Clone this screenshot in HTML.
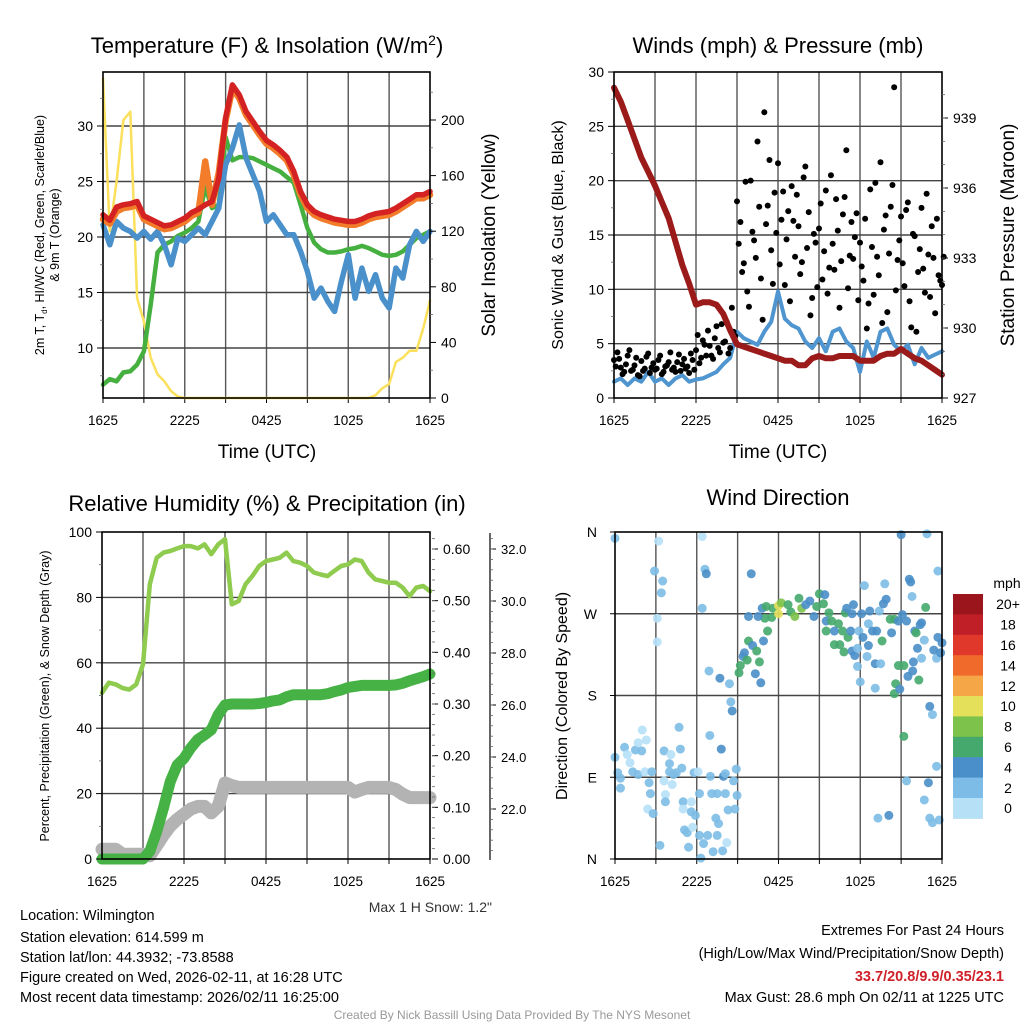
<!DOCTYPE html>
<html><head><meta charset="utf-8">
<style>
html,body{margin:0;padding:0;background:#fff;}
svg{display:block;font-family:"Liberation Sans",Arial,sans-serif;}
</style></head>
<body>
<svg id="fig" width="1024" height="1024" viewBox="0 0 1024 1024" xmlns="http://www.w3.org/2000/svg">
<rect width="1024" height="1024" fill="#fff"/>
<g id="g1"></g>
<g id="g2"></g>
<g id="g3"></g>
<g id="g4"></g>

<text x="267" y="53" font-size="22" text-anchor="middle">Temperature (F) &amp; Insolation (W/m<tspan dy="-8" font-size="14">2</tspan><tspan dy="8">)</tspan></text>
<text x="778" y="53" font-size="22" text-anchor="middle">Winds (mph) &amp; Pressure (mb)</text>
<text x="267" y="511" font-size="22" text-anchor="middle">Relative Humidity (%) &amp; Precipitation (in)</text>
<text x="778" y="505" font-size="22" text-anchor="middle">Wind Direction</text>

<text x="267" y="458" font-size="19" text-anchor="middle">Time (UTC)</text>
<text x="778" y="458" font-size="19" text-anchor="middle">Time (UTC)</text>

<text transform="translate(44,235) rotate(-90)" font-size="12.5" text-anchor="middle">2m T, T<tspan font-size="8" dy="3">d</tspan><tspan dy="-3">, HI/WC (Red, Green, Scarlet/Blue)</tspan></text>
<text transform="translate(59,235) rotate(-90)" font-size="12.5" text-anchor="middle">&amp; 9m T (Orange)</text>
<text transform="translate(495,235) rotate(-90)" font-size="19" text-anchor="middle">Solar Insolation (Yellow)</text>
<text transform="translate(563,235) rotate(-90)" font-size="16" text-anchor="middle">Sonic Wind &amp; Gust (Blue, Black)</text>
<text transform="translate(1014,235) rotate(-90)" font-size="19" text-anchor="middle">Station Pressure (Maroon)</text>
<text transform="translate(49,696) rotate(-90)" font-size="12.5" text-anchor="middle">Percent, Precipitation (Green), &amp; Snow Depth (Gray)</text>
<text transform="translate(567,696) rotate(-90)" font-size="16" text-anchor="middle">Direction (Colored By Speed)</text>

<text x="492" y="912" font-size="14" fill="#333" text-anchor="end">Max 1 H Snow: 1.2"</text>

<g font-size="14.5" fill="#000">
<text x="20" y="920">Location: Wilmington</text>
<text x="20" y="942">Station elevation: 614.599 m</text>
<text x="20" y="962">Station lat/lon: 44.3932; -73.8588</text>
<text x="20" y="982">Figure created on Wed, 2026-02-11, at 16:28 UTC</text>
<text x="20" y="1002">Most recent data timestamp: 2026/02/11 16:25:00</text>
</g>
<g font-size="14.5" text-anchor="end">
<text x="1004" y="935">Extremes For Past 24 Hours</text>
<text x="1004" y="958">(High/Low/Max Wind/Precipitation/Snow Depth)</text>
<text x="1004" y="981" fill="#d0202a" font-weight="bold">33.7/20.8/9.9/0.35/23.1</text>
<text x="1004" y="1002">Max Gust: 28.6 mph On 02/11 at 1225 UTC</text>
</g>
<text x="512" y="1019" font-size="12" fill="#999" text-anchor="middle">Created By Nick Bassill Using Data Provided By The NYS Mesonet</text>
</svg>
<script>
// ---------- DATA ----------
const timeTickLabels = ["1625","2225","0425","1025","1625"];
const tempRed = [22.0,21.5,22.7,22.9,23.0,23.2,21.9,21.6,21.3,21.0,21.1,21.4,21.7,22.2,22.5,22.9,23.2,25.3,30.7,33.7,32.8,31.3,30.4,29.5,28.7,28.3,27.8,27.2,25.9,24.1,22.9,22.3,22.0,21.8,21.6,21.5,21.4,21.4,21.6,21.9,22.1,22.2,22.3,22.6,23.0,23.4,23.8,23.8,24.1];
const temp9m = [21.6,21.2,22.3,22.6,22.7,22.9,21.6,21.3,21.0,20.7,20.8,21.1,21.4,21.9,22.2,26.8,22.9,25.8,30.5,33.4,32.5,31.0,30.1,29.2,28.4,28.0,27.5,26.9,25.6,23.8,22.6,22.0,21.7,21.5,21.3,21.2,21.1,21.1,21.3,21.6,21.8,21.9,22.0,22.3,22.7,23.1,23.5,23.5,23.8];
const dewGreen = [6.7,7.2,7.0,7.8,7.9,8.5,9.7,13.9,18.6,19.3,19.6,20.1,20.4,20.8,21.4,24.5,22.6,22.9,29.0,26.9,27.2,27.2,27.1,26.8,26.5,26.2,25.9,25.4,24.9,22.9,20.8,19.5,18.9,18.6,18.6,18.7,18.9,19.0,19.2,19.0,18.7,18.4,18.3,18.4,18.7,19.3,19.9,20.2,20.5];
const chillBlue = [21.1,19.3,21.4,20.8,20.5,19.9,20.5,19.8,20.5,19.3,17.5,19.9,19.6,20.2,20.8,20.2,21.4,22.6,26.5,28.0,30.1,27.1,25.6,24.1,21.4,22.0,21.1,20.2,20.2,18.7,16.9,14.5,15.4,14.2,13.3,16.0,18.4,14.5,17.2,15.1,16.6,14.5,13.6,17.2,16.3,19.3,20.5,19.6,20.5];
const solar = [230,120,156,200,206,72,55,29,17,12,5,1,0,0,0,0,0,0,0,0,0,0,0,0,0,0,0,0,0,0,0,0,0,0,0,0,0,0,0,0,2,7,10,26,29,34,34,50,70];
const tempTicks = [10,15,20,25,30];
const solarTicks = [0,40,80,120,160,200];

const pressure = [940.3,939.7,938.9,938.1,937.3,936.7,936.1,935.4,934.7,933.7,932.7,931.9,931.0,931.1,931.1,931.0,930.6,929.9,929.3,929.2,929.1,929.0,928.9,928.8,928.7,928.6,928.6,928.4,928.4,928.7,928.8,928.7,928.7,928.8,928.8,928.8,928.6,928.6,928.6,928.8,928.9,928.9,929.1,928.9,928.7,928.6,928.4,928.2,928.0];
const sonicWind = [1.5,1.8,1.2,1.8,1.5,2.4,1.5,1.8,1.2,1.8,2.1,1.5,1.7,1.8,2.1,2.4,3.1,3.7,6.1,5.5,5.2,4.9,6.1,7.0,9.8,7.3,6.7,6.4,5.2,4.6,5.5,4.3,6.1,6.4,5.2,4.6,2.4,5.2,3.7,6.1,6.4,4.9,4.3,4.9,3.1,4.6,3.7,4.0,4.3];
const gusts = [3.5,4.2,2.8,2.4,3.9,2.5,3.0,2.1,3.4,2.7,4.1,2.8,2.6,3.5,2.2,2.9,3.3,2.6,2.4,4.0,3.1,2.7,2.3,3.5,
 4.4,3.2,5.3,3.9,4.8,3.6,6.6,4.2,5.1,7.0,4.6,6.1,
 18.1,16.2,12.4,9.8,20.0,14.5,23.6,11.0,26.3,17.7,13.6,18.9,
 21.6,16.4,10.4,17.2,19.5,13.0,15.8,12.5,21.3,17.1,9.2,14.3,
 15.6,10.9,19.1,12.0,14.2,18.3,8.3,16.9,22.8,13.1,12.8,17.0,
 14.3,10.8,6.4,19.2,9.5,13.0,21.7,15.5,7.9,17.6,28.6,12.7,
 16.7,10.3,18.0,6.5,14.9,11.6,17.5,9.7,13.2,15.8,7.8,11.3,10.4];
const gusts2 = [2.9,3.6,2.2,3.1,4.4,2.6,3.7,2.0,2.5,3.8,2.3,3.2,2.7,3.9,2.4,3.0,4.2,2.8,3.3,2.5,3.6,2.9,4.1,2.6,
 5.8,3.7,4.9,6.2,3.9,5.5,4.6,6.8,5.2,4.1,8.3,5.7,
 14.2,11.6,19.9,8.4,15.3,12.9,17.6,7.2,16.0,21.9,10.5,15.2,
 12.3,19.0,14.6,8.9,16.3,18.7,11.4,20.3,13.8,7.6,15.1,10.2,
 17.9,13.5,9.6,20.5,11.8,15.4,12.6,18.5,10.1,16.2,14.8,9.0,
 12.1,16.5,8.7,13.9,19.8,11.3,6.9,16.8,13.3,19.6,9.9,14.5,
 12.4,17.3,8.9,15.1,6.1,13.7,11.9,18.8,9.3,12.9,16.5,10.8,13.0];
const windTicks = [0,5,10,15,20,25,30];
const pressureTicks = [927,930,933,936,939];

const rh = [50.8,53.9,53.4,52.3,51.8,53.4,59.5,84.0,92.1,93.7,94.2,95.0,95.7,95.7,95.0,96.2,93.2,96.2,97.8,77.9,78.9,84.0,86.5,89.6,91.1,91.6,92.1,93.7,91.1,90.6,89.6,87.6,87.0,86.5,88.1,89.6,90.1,91.6,91.1,87.6,85.5,85.0,84.5,84.5,83.0,80.4,83.0,83.5,81.9];
const precip = [0,0,0,0,0,0,0,0.015,0.053,0.099,0.150,0.182,0.195,0.215,0.231,0.240,0.250,0.279,0.298,0.300,0.300,0.300,0.300,0.301,0.303,0.306,0.308,0.314,0.318,0.318,0.318,0.318,0.318,0.320,0.324,0.327,0.332,0.334,0.336,0.336,0.336,0.336,0.336,0.337,0.340,0.345,0.349,0.353,0.358];
const snowDepth = [20.45,20.45,20.45,20.26,20.26,20.26,20.26,20.2,20.6,21.0,21.35,21.6,21.8,22.0,22.1,22.1,21.85,22.1,23.0,22.9,22.83,22.83,22.83,22.83,22.83,22.83,22.83,22.83,22.83,22.83,22.83,22.83,22.83,22.83,22.83,22.83,22.83,22.65,22.75,22.83,22.83,22.83,22.83,22.75,22.57,22.44,22.44,22.44,22.44];
const rhTicks = [0,20,40,60,80,100];
const precipTicks = ["0.00","0.10","0.20","0.30","0.40","0.50","0.60"];
const snowTicks = ["22.0","24.0","26.0","28.0","30.0","32.0"];

const dirHours = [0,3.2,6.4,2.9,3.5,3.4,6.6,6.7,6.4,3.1,3.1,10.0,6.9,7.7,8.4,8.5,8.6,6.96,7.8,4.7,
 0,0.2,0.4,0.4,0.7,0.9,1.1,1.5,1.7,1.96,2.0,2.3,1.3,1.7,2.2,2.7,2.5,2.6,2.4,2.8,3.3,3.6,4.0,4.1,4.0,4.3,4.5,4.8,4.9,3.7,3.7,4.2,3.6,5.0,5.0,5.6,5.6,5.9,5.1,5.3,5.7,5.4,5.8,6.1,6.2,6.2,6.5,6.8,6.3,7.0,7.1,7.5,7.4,7.6,7.5,7.2,7.9,8.2,7.96,8.1,8.1,8.3,8.7,8.8,8.9,8.96,
 9.1,9.2,9.4,9.5,9.7,9.8,10.1,10.3,10.4,10.6,10.7,10.9,11.2,11.0,10.8,11.1,11.5,11.6,12.0,12.0,12.2,12.7,12.9,13.2,13.5,13.7,14.0,14.3,14.6,14.8,15.0,15.3,15.4,9.8,10.5,
 15.7,15.5,15.9,16.4,15.5,16.1,16.7,17.1,16.1,16.5,16.8,16.9,17.0,17.5,17.4,17.3,17.4,17.6,17.8,17.9,17.8,18.0,18.1,18.2,18.3,18.5,18.6,18.6,18.7,18.9,19.1,19.1,19.2,19.4,19.5,19.6,19.7,19.9,19.8,20.2,20.3,20.5,20.6,20.5,20.8,20.8,20.9,21.0,21.1,21.2,21.2,21.4,21.5,21.6,21.7,21.8,21.85,21.9,22.0,22.1,22.2,22.3,22.4,22.5,22.5,22.7,22.8,22.9,23.1,23.3,23.4,23.6,23.7,24.0,23.9,23.7,23.6,23.0,22.7,23.1,23.3,23.8,21.4,19.3,20.1];
const dirDeg = [353,350,355,317,306,293,319,314,276,265,239,314,207,199,193,173,163,136,121,145,
 112,95,89,78,123,115,106,120,128,119,142,131,96,93,96,96,84,72,55,50,15,119,105,115,96,93,95,121,100,71,63,82,86,63,55,63,52,48,32,29,35,13,95,96,72,26,17,26,1,91,72,72,45,39,26,8,9,18,91,94,72,54,86,55,99,70,
 205,213,223,227,219,240,235,204,229,217,194,240,251,265,276,278,266,276,279,270,282,280,272,267,287,276,280,284,267,278,292,281,291,267,267,
 271,262,262,259,251,251,251,244,236,236,228,271,276,280,270,251,229,224,232,251,212,195,270,244,301,223,235,259,273,251,215,188,251,273,215,240,281,286,303,264,249,264,193,182,262,213,187,357,269,213,135,262,201,308,305,289,207,217,251,249,232,197,258,260,221,241,277,358,168,159,230,221,244,238,227,317,102,84,65,45,40,43,86,45,48];
const dirSpeed = [3,1,1,3,3,3,3,5,3,1,1,5,3,5,3,3,5,3,5,3,
 3,3,3,3,3,1,1,3,1,3,1,1,3,3,1,3,3,3,1,3,3,3,3,1,3,3,3,3,3,1,3,1,1,3,1,1,3,3,3,3,1,3,3,1,3,3,3,3,3,3,3,3,3,3,3,3,3,1,5,3,3,3,3,3,3,3,
 7,7,5,5,7,7,5,5,7,7,5,5,7,7,5,7,7,7,11,11,9,7,7,9,7,9,5,5,5,7,7,7,5,5,5,
 7,5,7,7,7,5,7,7,7,7,7,7,5,5,5,5,5,5,3,3,3,3,5,5,3,3,5,3,5,5,5,3,5,3,3,7,5,5,3,7,5,7,7,7,5,7,5,5,5,7,7,5,5,5,5,3,5,5,5,7,5,7,5,5,3,3,7,3,5,3,5,3,5,5,5,3,3,5,3,3,3,3,3,3,5];
const dirTickLabels = ["N","E","S","W","N"];
const speedBins = ["0","2","4","6","8","10","12","14","16","18","20+"];
const speedColors = ["#b5e0f6","#7dbce6","#4a8fc9","#45a86c","#7dc24b","#e5e05a","#f5a646","#f06a2c","#e0392b","#c01f27","#9a161c"];

// ---------- HELPERS ----------
const NS = "http://www.w3.org/2000/svg";
function mk(tag, attrs, parent){
  const e = document.createElementNS(NS, tag);
  for (const k in attrs) e.setAttribute(k, attrs[k]);
  parent.appendChild(e);
  return e;
}
function lin(d0,d1,r0,r1){ return v => r0 + (v-d0)/(d1-d0)*(r1-r0); }
function pts(xs, ys, xf, yf){ return xs.map((h,i)=>xf(h).toFixed(1)+","+yf(ys[i]).toFixed(1)).join(" "); }
const half = tempRed.map((_,i)=>i*0.5);
const quarter = gusts.map((_,i)=>i*0.25);

function frame(g, P, name){
  const xs = lin(0,24,P.x0,P.x1);
  for (let h=3; h<24; h+=3){
    const l = mk('line',{x1:xs(h),x2:xs(h),y1:P.y0,y2:P.y1,stroke:"#555","stroke-width":1.4},g);
    
    
  }
  for (let h=0; h<=24; h+=3){
    const t = mk('line',{x1:xs(h),x2:xs(h),y1:P.y1,y2:P.y1+5,stroke:"#000","stroke-width":1},g);
    
    
  }
  timeTickLabels.forEach((lab,i)=>{
    const t = mk('text',{x:xs(i*6),y:P.y1+27,"font-size":13.5,"text-anchor":"middle"},g);
    t.textContent = lab;
    
    
  });
  return xs;
}
function hgrid(g,P,vals,yf,name){
  vals.forEach(v=>{
    const y=yf(v);
    if (y<=P.y0+1||y>=P.y1-1) return;
    const l = mk('line',{x1:P.x0,x2:P.x1,y1:y,y2:y,stroke:"#444","stroke-width":1.4},g);
    
    
  });
}
function border(g,P,name){
  const r = mk('rect',{x:P.x0,y:P.y0,width:P.x1-P.x0,height:P.y1-P.y0,fill:"none",stroke:"#000","stroke-width":1.6},g);
  
  
}
function yTicks(g,x,labels,yf,side,name,minorVals,fs){
  labels.forEach(lab=>{
    const y = yf(parseFloat(lab));
    const dx = side==='left'?-6:6;
    const t = mk('line',{x1:x,x2:x+dx,y1:y,y2:y,stroke:"#000","stroke-width":1},g);
    
    
    const tx = mk('text',{x:side==='left'?x-10:x+11,y:y+5,"font-size":fs||14,"text-anchor":side==='left'?"end":"start"},g);
    tx.textContent = lab;
    
    
  });
  (minorVals||[]).forEach(v=>{
    const y=yf(v); const dx = side==='left'?-3:3;
    const t = mk('line',{x1:x,x2:x+dx,y1:y,y2:y,stroke:"#666","stroke-width":0.8},g);
    
    
  });
}
function range(a,b,s){const r=[];for(let v=a;v<=b+1e-9;v+=s)r.push(+v.toFixed(4));return r;}
function line(g,xs,ys,xf,yf,color,w,name){
  const p = mk('polyline',{points:pts(xs,ys,xf,yf),fill:"none",stroke:color,"stroke-width":w,"stroke-linejoin":"round","stroke-linecap":"round"},g);
  
  
  return p;
}

// ---------- PANEL 1 ----------
(function(){
  const g = document.getElementById('g1');
  const P = {x0:103,x1:430,y0:72,y1:398};
  const xs = frame(g,P,'temperature');
  const yT = lin(20,30,237,126);
  const yS = lin(0,200,398,120);
  hgrid(g,P,tempTicks,yT,'temperature');
  line(g,half,solar,xs,yS,"#fbe05c",2.5,'solar-insolation-line');
  line(g,half,dewGreen,xs,yT,"#45b040",4.5,'dewpoint-line');
  line(g,half,chillBlue,xs,yT,"#4a90cb",5.5,'wind-chill-line');
  line(g,half,temp9m,xs,yT,"#f27c2a",6.5,'temperature-9m-line');
  line(g,half,tempRed,xs,yT,"#d42222",5.5,'temperature-2m-line');
  border(g,P,'temperature');
  yTicks(g,P.x0,tempTicks.map(String),yT,'left','temperature-y',range(7.5,32.5,5),14);
  yTicks(g,P.x1,solarTicks.map(String),yS,'right','solar-y',range(20,220,40),14);
})();

// ---------- PANEL 2 ----------
(function(){
  const g = document.getElementById('g2');
  const P = {x0:614,x1:942,y0:72,y1:398};
  const xs = frame(g,P,'winds');
  const yW = lin(0,30,398,72);
  const yP = lin(927,939,398,118);
  hgrid(g,P,windTicks,yW,'winds');
  line(g,half,sonicWind,xs,yW,"#4f95d0",4,'sonic-wind-line');
  gusts.forEach((v,i)=>{
    const c = mk('circle',{cx:xs(quarter[i]),cy:yW(v),r:3,fill:"#000"},g);
    
    
  });
  gusts2.forEach((v,i)=>{
    const c = mk('circle',{cx:xs(quarter[i]+0.125),cy:yW(v),r:3,fill:"#000"},g);
    
    
  });
  line(g,half,pressure,xs,yP,"#9b1a1a",6,'pressure-line');
  border(g,P,'winds');
  yTicks(g,P.x0,windTicks.map(String),yW,'left','wind-y',range(2.5,27.5,5),14);
  yTicks(g,P.x1,pressureTicks.map(String),yP,'right','pressure-y',range(928,940,1),14);
})();

// ---------- PANEL 3 ----------
(function(){
  const g = document.getElementById('g3');
  const P = {x0:102,x1:430,y0:532,y1:859};
  const xs = frame(g,P,'humidity');
  const yR = lin(0,100,859,532);
  const yPr = lin(0,0.6,859,549);
  const ySn = lin(22,32,809,549);
  hgrid(g,P,rhTicks,yR,'humidity');
  line(g,half,snowDepth,xs,ySn,"#b3b3b3",13,'snow-depth-line');
  line(g,half,precip,xs,yPr,"#46b245",11,'precipitation-line');
  line(g,half,rh,xs,yR,"#8ecb4e",4.5,'relative-humidity-line');
  border(g,P,'humidity');
  yTicks(g,P.x0,rhTicks.map(String),yR,'left','rh-y',range(10,90,20),14);
  yTicks(g,P.x1+2,precipTicks,yPr,'right','precip-y',range(0.02,0.62,0.02),14);
  const ax = mk('line',{x1:490,x2:490,y1:533,y2:860,stroke:"#000","stroke-width":1.2},g);
  
  
  yTicks(g,490,snowTicks,ySn,'right','snow-y',range(20.4,32.4,0.4),13);
})();

// ---------- PANEL 4 ----------
(function(){
  const g = document.getElementById('g4');
  const P = {x0:615,x1:942,y0:532,y1:859};
  const xs = frame(g,P,'direction');
  const yD = lin(0,360,859,532);
  hgrid(g,P,[90,180,270],yD,'direction');
  dirHours.forEach((h,i)=>{
    const bin = Math.min(10, Math.floor(dirSpeed[i]/2));
    const c = mk('circle',{cx:xs(h),cy:yD(dirDeg[i]),r:4.5,fill:speedColors[bin],"fill-opacity":0.9},g);
    
    
  });
  border(g,P,'direction');
  dirTickLabels.forEach((lab,i)=>{
    const y=yD(i*90);
    const t = mk('line',{x1:P.x0,x2:P.x0-5,y1:y,y2:y,stroke:"#000"},g);
    
    
    const tx = mk('text',{x:P.x0-18,y:y+5,"font-size":14,"text-anchor":"end"},g);
    tx.textContent = lab;
    
    
  });
  const cbTop = 594, boxH = 20.4;
  const u = mk('text',{x:1007,y:588,"font-size":14,"text-anchor":"middle"},g);
  u.textContent = "mph";
  
  
  for (let i=0;i<speedBins.length;i++){
    const bi = speedBins.length-1-i;
    const r = mk('rect',{x:953,y:cbTop+i*boxH,width:30,height:boxH+0.5,fill:speedColors[bi]},g);
    
    
    const t = mk('text',{x:1008,y:cbTop+i*boxH+boxH/2+5,"font-size":14,"text-anchor":"middle"},g);
    t.textContent = speedBins[bi];
    
    
  }
})();
</script>
</body></html>
